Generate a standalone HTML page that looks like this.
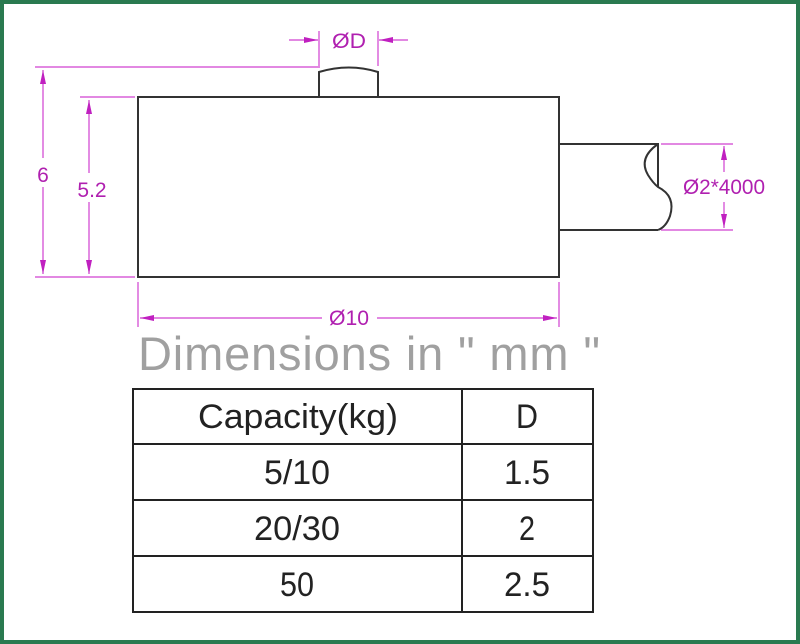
<!DOCTYPE html>
<html><head><style>
html,body{margin:0;padding:0;background:#fff;}
svg{display:block;}
</style></head><body>
<svg width="800" height="644" viewBox="0 0 800 644" xmlns="http://www.w3.org/2000/svg">
<rect x="2" y="2" width="796" height="640" fill="#fff" stroke="#2a7a50" stroke-width="4"/>
<defs>
<marker id="a" markerWidth="14" markerHeight="6" refX="14" refY="3" orient="auto" markerUnits="userSpaceOnUse"><path d="M0,0 L14,3 L0,6 Z" fill="#c020c0"/></marker>
</defs>
<g stroke="#333" stroke-width="2" fill="none">
<rect x="138" y="97" width="421" height="180"/>
<path d="M319,97 L319,72 Q349,63 378,72 L378,97"/>
<path d="M559,144 L658,144 L658,187 M559,230 L658,230"/>
<path d="M658,144 Q638,158 648,175 Q653,183 658,187 Q676,196 670,216 Q666,227 658,230"/>
</g>
<g stroke="#d040d0" stroke-width="1.2" fill="none">
<line x1="35" y1="67" x2="320" y2="67"/>
<line x1="35" y1="277" x2="135" y2="277"/>
<line x1="80" y1="97" x2="135" y2="97"/>
<line x1="43" y1="158" x2="43" y2="70" marker-end="url(#a)"/>
<line x1="43" y1="187" x2="43" y2="274" marker-end="url(#a)"/>
<line x1="89" y1="173" x2="89" y2="100" marker-end="url(#a)"/>
<line x1="89" y1="202" x2="89" y2="274" marker-end="url(#a)"/>
<line x1="319" y1="31" x2="319" y2="66"/>
<line x1="378" y1="31" x2="378" y2="66"/>
<line x1="289" y1="40" x2="318" y2="40" marker-end="url(#a)"/>
<line x1="408" y1="40" x2="379" y2="40" marker-end="url(#a)"/>
<line x1="138" y1="282" x2="138" y2="327"/>
<line x1="559" y1="282" x2="559" y2="327"/>
<line x1="322" y1="318" x2="140" y2="318" marker-end="url(#a)"/>
<line x1="377" y1="318" x2="557" y2="318" marker-end="url(#a)"/>
<line x1="661" y1="144" x2="733" y2="144"/>
<line x1="661" y1="230" x2="733" y2="230"/>
<line x1="724" y1="172" x2="724" y2="146" marker-end="url(#a)"/>
<line x1="724" y1="202" x2="724" y2="228" marker-end="url(#a)"/>
</g>
<g fill="#b020b0" font-family="Liberation Sans, sans-serif" font-size="21" text-anchor="middle">
<text x="349" y="48" textLength="34" lengthAdjust="spacingAndGlyphs">ØD</text>
<text x="43" y="182">6</text>
<text x="92" y="197">5.2</text>
<text x="349" y="325" textLength="40" lengthAdjust="spacingAndGlyphs">Ø10</text>
<text x="724" y="194" textLength="82" lengthAdjust="spacingAndGlyphs">Ø2*4000</text>
</g>
<text x="138" y="370" font-family="Liberation Sans, sans-serif" font-size="47" fill="#a0a0a0" textLength="462" lengthAdjust="spacing">Dimensions in " mm "</text>
<g stroke="#222" stroke-width="2" fill="none">
<rect x="133" y="389" width="460" height="223"/>
<line x1="462" y1="389" x2="462" y2="612"/>
<line x1="133" y1="444" x2="593" y2="444"/>
<line x1="133" y1="500" x2="593" y2="500"/>
<line x1="133" y1="556" x2="593" y2="556"/>
</g>
<g fill="#222" font-family="Liberation Sans, sans-serif" font-size="34" text-anchor="middle">
<text x="298" y="428" textLength="200" lengthAdjust="spacingAndGlyphs">Capacity(kg)</text>
<text x="527" y="428" textLength="22" lengthAdjust="spacingAndGlyphs">D</text>
<text x="297" y="484" textLength="66" lengthAdjust="spacingAndGlyphs">5/10</text>
<text x="527" y="484" textLength="46" lengthAdjust="spacingAndGlyphs">1.5</text>
<text x="297" y="540" textLength="86" lengthAdjust="spacingAndGlyphs">20/30</text>
<text x="527" y="540" textLength="16" lengthAdjust="spacingAndGlyphs">2</text>
<text x="297" y="596" textLength="34" lengthAdjust="spacingAndGlyphs">50</text>
<text x="527" y="596" textLength="46" lengthAdjust="spacingAndGlyphs">2.5</text>
</g>
</svg>
</body></html>
